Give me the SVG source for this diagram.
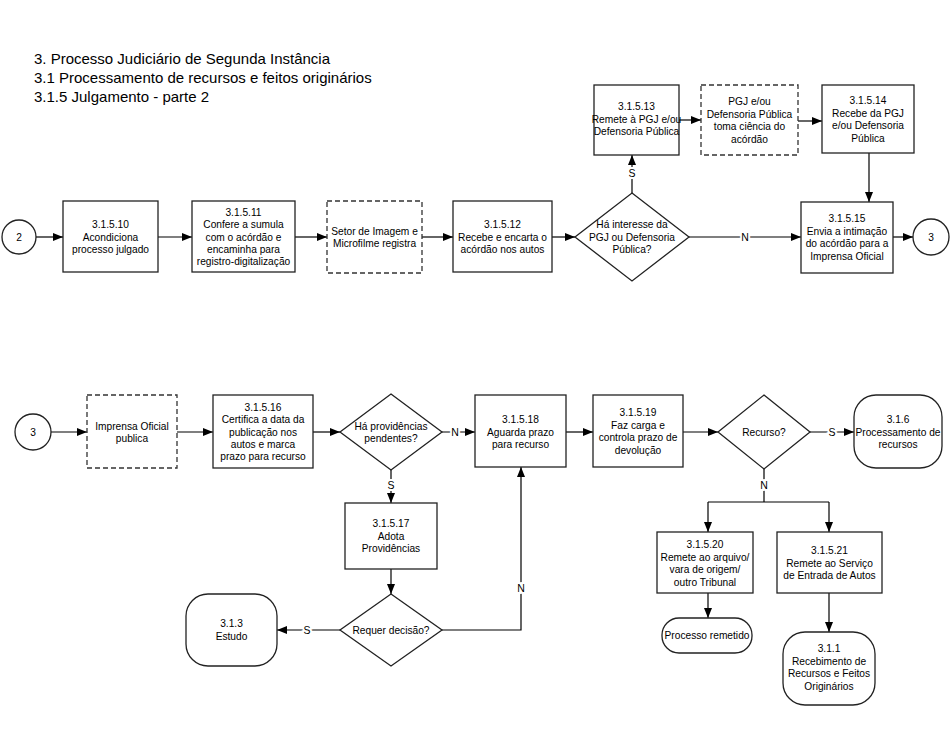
<svg xmlns="http://www.w3.org/2000/svg" width="951" height="751" viewBox="0 0 951 751">
<defs>
<marker id="ah" markerUnits="userSpaceOnUse" markerWidth="10" markerHeight="8" refX="10" refY="4" orient="auto">
<path d="M0,0 L10,4 L0,8 z" fill="#000"/>
</marker>
<style>
.s{fill:#fff;stroke:#222;stroke-width:1.3}
.d{fill:#fff;stroke:#333;stroke-width:1.3;stroke-dasharray:5,3}
.t{font-family:"Liberation Sans",Arial,sans-serif;font-size:10.2px;fill:#000;text-anchor:middle}
.h{font-family:"Liberation Sans",Arial,sans-serif;font-size:15px;fill:#000}
.c{fill:none;stroke:#000;stroke-width:1.2}
.a{marker-end:url(#ah)}
.l{font-family:"Liberation Sans",Arial,sans-serif;font-size:10.5px;fill:#000;text-anchor:middle;stroke:#fff;stroke-width:4;paint-order:stroke}
</style>
</defs>
<rect width="951" height="751" fill="#fff"/>
<g id="title">
<text class="h" x="34" y="64">3. Processo Judiciário de Segunda Instância</text>
<text class="h" x="34" y="83">3.1 Processamento de recursos e feitos originários</text>
<text class="h" x="34" y="102">3.1.5 Julgamento - parte 2</text>
</g>
<g id="connectors">
<path class="c a" d="M36,237 H63"/>
<path class="c a" d="M158,237 H192"/>
<path class="c a" d="M295,237 H327"/>
<path class="c a" d="M422,237 H453"/>
<path class="c a" d="M552,237 H575"/>
<path class="c a" d="M632,193 V155"/>
<text class="l" x="632" y="177">S</text>
<path class="c a" d="M679,120 H701"/>
<path class="c a" d="M798,121 H822"/>
<path class="c a" d="M869,153 V202"/>
<path class="c a" d="M689,237 H801"/>
<text class="l" x="745" y="241">N</text>
<path class="c a" d="M893,237 H913"/>
<path class="c a" d="M51,432 H87"/>
<path class="c a" d="M177,432 H213"/>
<path class="c a" d="M313,432 H340"/>
<path class="c a" d="M442,432 H475"/>
<text class="l" x="455" y="436">N</text>
<path class="c a" d="M391,469 V503"/>
<text class="l" x="391" y="489">S</text>
<path class="c a" d="M566,432 H593"/>
<path class="c a" d="M683,432 H718"/>
<path class="c a" d="M810,432 H854"/>
<text class="l" x="832" y="436">S</text>
<path class="c" d="M764,469 V502 M708,502 H829"/>
<path class="c a" d="M708,502 V532"/>
<path class="c a" d="M829,502 V532"/>
<text class="l" x="764" y="489">N</text>
<path class="c a" d="M391,569 V594"/>
<path class="c a" d="M340,630 H277"/>
<text class="l" x="307" y="634">S</text>
<path class="c a" d="M442,630 H521 V467"/>
<text class="l" x="521" y="592">N</text>
<path class="c a" d="M708,593 V618"/>
<path class="c a" d="M829,593 V632"/>
</g>
<g id="c2"><circle class="s" cx="19" cy="237" r="17"/><text class="t" x="19" y="241">2</text></g>
<g id="n3_1_5_10"><rect class="s" x="63" y="201" width="95" height="71"/><text class="t" x="110.5" y="228">3.1.5.10<tspan x="110.5" dy="12.5">Acondiciona</tspan><tspan x="110.5" dy="12.5">processo julgado</tspan></text></g>
<g id="n3_1_5_11"><rect class="s" x="192" y="201" width="103" height="71"/><text class="t" x="243.5" y="216">3.1.5.11<tspan x="243.5" dy="12.3">Confere a sumula</tspan><tspan x="243.5" dy="12.3">com o acórdão e</tspan><tspan x="243.5" dy="12.3">encaminha para</tspan><tspan x="243.5" dy="12.3">registro-digitalização</tspan></text></g>
<g id="setor"><rect class="d" x="327" y="201" width="95" height="72"/><text class="t" x="374.5" y="234.5">Setor de Imagem e<tspan x="374.5" dy="12.5">Microfilme registra</tspan></text></g>
<g id="n3_1_5_12"><rect class="s" x="453" y="201" width="99" height="71"/><text class="t" x="502.5" y="228">3.1.5.12<tspan x="502.5" dy="12.5">Recebe e encarta o</tspan><tspan x="502.5" dy="12.5">acórdão nos autos</tspan></text></g>
<g id="dec_interesse"><path class="s" d="M632,193 L689,237 L632,281 L575,237 z"/><text class="t" x="632" y="228">Há interesse da<tspan x="632" dy="12.5">PGJ ou Defensoria</tspan><tspan x="632" dy="12.5">Pública?</tspan></text></g>
<g id="n3_1_5_13"><rect class="s" x="594" y="85" width="85" height="70"/><text class="t" x="636.5" y="110">3.1.5.13<tspan x="636.5" dy="12.5">Remete à PGJ e/ou</tspan><tspan x="636.5" dy="12.5">Defensoria Pública</tspan></text></g>
<g id="pgj"><rect class="d" x="701" y="85" width="97" height="70"/><text class="t" x="749.5" y="105">PGJ e/ou<tspan x="749.5" dy="12.5">Defensoria Pública</tspan><tspan x="749.5" dy="12.5">toma ciência do</tspan><tspan x="749.5" dy="12.5">acórdão</tspan></text></g>
<g id="n3_1_5_14"><rect class="s" x="822" y="85" width="92" height="68"/><text class="t" x="868" y="104">3.1.5.14<tspan x="868" dy="12.5">Recebe da PGJ</tspan><tspan x="868" dy="12.5">e/ou Defensoria</tspan><tspan x="868" dy="12.5">Pública</tspan></text></g>
<g id="n3_1_5_15"><rect class="s" x="801" y="202" width="92" height="71"/><text class="t" x="847" y="222">3.1.5.15<tspan x="847" dy="12.5">Envia a intimação</tspan><tspan x="847" dy="12.5">do acórdão para a</tspan><tspan x="847" dy="12.5">Imprensa Oficial</tspan></text></g>
<g id="c3a"><circle class="s" cx="931" cy="237" r="18"/><text class="t" x="931" y="241">3</text></g>
<g id="c3b"><circle class="s" cx="33" cy="432" r="18"/><text class="t" x="33" y="436">3</text></g>
<g id="imprensa"><rect class="d" x="87" y="395" width="90" height="73"/><text class="t" x="132" y="429.5">Imprensa Oficial<tspan x="132" dy="12.5">publica</tspan></text></g>
<g id="n3_1_5_16"><rect class="s" x="213" y="395" width="100" height="73"/><text class="t" x="263" y="411">3.1.5.16<tspan x="263" dy="12.3">Certifica a data da</tspan><tspan x="263" dy="12.3">publicação nos</tspan><tspan x="263" dy="12.3">autos e marca</tspan><tspan x="263" dy="12.3">prazo para recurso</tspan></text></g>
<g id="dec_prov"><path class="s" d="M391,394 L442,432 L391,470 L340,432 z"/><text class="t" x="391" y="429.5">Há providências<tspan x="391" dy="12.5">pendentes?</tspan></text></g>
<g id="n3_1_5_18"><rect class="s" x="475" y="395" width="91" height="72"/><text class="t" x="520.5" y="423">3.1.5.18<tspan x="520.5" dy="12.5">Aguarda prazo</tspan><tspan x="520.5" dy="12.5">para recurso</tspan></text></g>
<g id="n3_1_5_19"><rect class="s" x="593" y="395" width="90" height="72"/><text class="t" x="638" y="416">3.1.5.19<tspan x="638" dy="12.5">Faz carga e</tspan><tspan x="638" dy="12.5">controla prazo de</tspan><tspan x="638" dy="12.5">devolução</tspan></text></g>
<g id="dec_recurso"><path class="s" d="M764,395 L810,432 L764,469 L718,432 z"/><text class="t" x="764" y="436">Recurso?</text></g>
<g id="t3_1_6"><rect class="s" x="854" y="395" width="88" height="73" rx="22"/><text class="t" x="898" y="423">3.1.6<tspan x="898" dy="12.5">Processamento de</tspan><tspan x="898" dy="12.5">recursos</tspan></text></g>
<g id="n3_1_5_17"><rect class="s" x="345" y="503" width="92" height="66"/><text class="t" x="391" y="527">3.1.5.17<tspan x="391" dy="12.5">Adota</tspan><tspan x="391" dy="12.5">Providências</tspan></text></g>
<g id="dec_decisao"><path class="s" d="M391,594 L442,630 L391,666 L340,630 z"/><text class="t" x="391" y="634">Requer decisão?</text></g>
<g id="t3_1_3"><rect class="s" x="186" y="594" width="91" height="72" rx="22"/><text class="t" x="231.5" y="627">3.1.3<tspan x="231.5" dy="12.5">Estudo</tspan></text></g>
<g id="n3_1_5_20"><rect class="s" x="657" y="532" width="96" height="61"/><text class="t" x="705" y="548">3.1.5.20<tspan x="705" dy="12.5">Remete ao arquivo/</tspan><tspan x="705" dy="12.5">vara de origem/</tspan><tspan x="705" dy="12.5">outro Tribunal</tspan></text></g>
<g id="n3_1_5_21"><rect class="s" x="777" y="532" width="105" height="61"/><text class="t" x="829.5" y="554">3.1.5.21<tspan x="829.5" dy="12.5">Remete ao Serviço</tspan><tspan x="829.5" dy="12.5">de Entrada de Autos</tspan></text></g>
<g id="t_remetido"><rect class="s" x="662" y="618" width="90" height="35" rx="17"/><text class="t" x="707" y="639">Processo remetido</text></g>
<g id="t3_1_1"><rect class="s" x="783" y="632" width="92" height="73" rx="22"/><text class="t" x="829" y="652">3.1.1<tspan x="829" dy="12.5">Recebimento de</tspan><tspan x="829" dy="12.5">Recursos e Feitos</tspan><tspan x="829" dy="12.5">Originários</tspan></text></g>
</svg>
